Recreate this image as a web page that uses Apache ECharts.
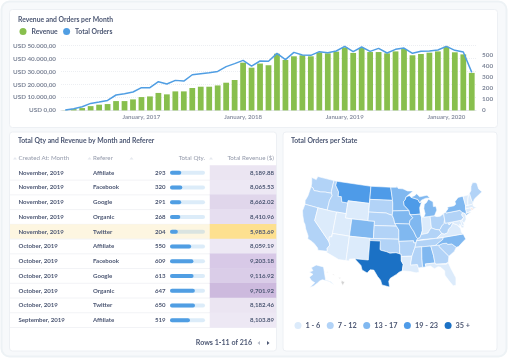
<!DOCTYPE html>
<html><head><meta charset="utf-8">
<style>html,body{margin:0;padding:0;background:#fff}#c{width:508px;height:360px;filter:blur(0.35px)}</style>
<script src="https://cdn.jsdelivr.net/npm/echarts@6/dist/echarts.min.js"></script>
</head><body><div id="c"></div>
<script>
// ---- Monthly chart data
const months = ['Apr 2016','May 2016','Jun 2016','Jul 2016','Aug 2016','Sep 2016','Oct 2016','Nov 2016','Dec 2016',
 'January, 2017','Feb 2017','Mar 2017','Apr 2017','May 2017','Jun 2017','Jul 2017','Aug 2017','Sep 2017','Oct 2017','Nov 2017','Dec 2017',
 'January, 2018','Feb 2018','Mar 2018','Apr 2018','May 2018','Jun 2018','Jul 2018','Aug 2018','Sep 2018','Oct 2018','Nov 2018','Dec 2018',
 'January, 2019','Feb 2019','Mar 2019','Apr 2019','May 2019','Jun 2019','Jul 2019','Aug 2019','Sep 2019','Oct 2019','Nov 2019','Dec 2019',
 'January, 2020','Feb 2020','Mar 2020','Apr 2020'];
const revenue = [100,1000,1800,3300,4400,4900,7200,7200,8500,10300,10800,13500,12400,14700,14700,17300,18300,18300,19300,21400,23500,
 36900,33000,36200,34900,43800,39000,41800,42600,41800,44900,44100,45400,48700,44400,48200,45100,45100,44100,45600,47400,42600,43600,44600,45600,49200,44900,43300,29000];
const orders = [3,15,33,63,75,90,139,151,166,205,205,259,238,271,265,322,331,340,352,395,422,
 452,400,446,443,515,458,524,500,497,530,521,536,578,530,572,533,560,518,551,563,515,533,536,545,578,542,527,343];
// ---- Table data
const rowMonth = ['November, 2019','November, 2019','November, 2019','November, 2019','November, 2019','October, 2019','October, 2019','October, 2019','October, 2019','October, 2019','September, 2019'];
const rowReferer = ['Affiliate','Facebook','Google','Organic','Twitter','Affiliate','Facebook','Google','Organic','Twitter','Affiliate'];
const rowQty = [293,320,291,268,204,550,609,613,647,650,519];
const rowRevenue = [8189.88,8065.53,8662.02,8410.96,5983.69,8059.19,9203.18,9116.92,9701.92,8182.46,8103.89];
const highlightedRow = 4;
// ---- State map data
const stateOrders = {WA:9,OR:10,CA:11,NV:4,ID:8,MT:20,WY:3,UT:4,CO:15,AZ:5,NM:4,ND:21,SD:9,NE:10,KS:9,OK:10,TX:38,MN:14,IA:15,MO:16,AR:10,LA:5,WI:22,IL:15,IN:4,MI:16,OH:11,KY:10,TN:9,MS:9,AL:14,GA:11,FL:5,SC:10,NC:15,VA:5,WV:8,MD:5,DE:2,PA:10,NY:16,NJ:4,CT:3,MA:5,VT:2,NH:5,ME:9,AK:8,RI:0};
const legendRanges = [[1,6,'1 - 6'],[7,12,'7 - 12'],[13,18,'13 - 17'],[19,24,'19 - 23'],[35,999,'35 +']];
const legendColors = ['#dcebfb','#b2d3f7','#80b8f0','#4e9be8','#1b71c5'];
const revenueBreaks = [0,7000,8150,8300,8500,8800,9150,9400,20000];
const revenueColors = ['#fde08f','#ede8f4','#ebe5f2','#e6def0','#e0d6eb','#dacde8','#d8c9e7','#cdbade'];
const stateShapes = {
WA:[[[-124.7,48.4],[-123,48.2],[-122.8,49],[-117.03,49],[-117.04,46.4],[-116.9,46],[-119,45.93],[-120.5,45.7],[-121.5,45.7],[-122.7,45.6],[-123.3,46.15],[-124,46.27],[-124.1,47]]],
OR:[[[-124,46.27],[-123.3,46.15],[-122.7,45.6],[-121.5,45.7],[-120.5,45.7],[-119,45.93],[-116.9,46],[-116.5,45.5],[-117,44.3],[-117.03,42],[-120,42],[-124.2,42],[-124.5,42.8],[-124.1,44]]],
CA:[[[-124.2,42],[-120,42],[-120,39],[-114.6,35],[-114.15,34.26],[-114.7,33.4],[-114.5,32.75],[-117.1,32.53],[-117.3,33],[-118.4,33.75],[-119.2,34.15],[-120.6,34.55],[-120.7,35.2],[-121.9,36.6],[-122.5,37.6],[-123,38],[-123.8,39.3],[-124.35,40.4]]],
NV:[[[-120,42],[-117.03,42],[-114.04,42],[-114.04,36.2],[-114.75,36.1],[-114.6,35],[-120,39]]],
ID:[[[-117.03,49],[-116.05,49],[-116.05,48],[-114.7,46.7],[-114.5,45.6],[-113.5,45.7],[-113,44.5],[-111.05,44.5],[-111.05,42],[-114.04,42],[-117.03,42],[-117,44.3],[-116.5,45.5],[-116.9,46],[-117.04,46.4]]],
MT:[[[-116.05,49],[-104.05,49],[-104.05,45.94],[-104.05,45],[-111.05,45],[-111.05,44.5],[-113,44.5],[-113.5,45.7],[-114.5,45.6],[-114.7,46.7],[-116.05,48]]],
WY:[[[-111.05,45],[-104.05,45],[-104.05,43],[-104.05,41],[-109.05,41],[-111.05,41],[-111.05,42],[-111.05,44.5]]],
UT:[[[-114.04,42],[-111.05,42],[-111.05,41],[-109.05,41],[-109.05,37],[-114.04,37],[-114.04,36.2]]],
CO:[[[-109.05,41],[-104.05,41],[-102.05,41],[-102.05,40],[-102.05,37],[-103,37],[-109.05,37]]],
AZ:[[[-114.04,37],[-109.05,37],[-109.05,31.33],[-111.07,31.33],[-114.8,32.5],[-114.5,32.75],[-114.7,33.4],[-114.15,34.26],[-114.6,35],[-114.75,36.1],[-114.04,36.2]]],
NM:[[[-109.05,37],[-103,37],[-103.03,36.5],[-103.05,32],[-106.6,32],[-106.5,31.78],[-108.2,31.78],[-108.2,31.33],[-109.05,31.33]]],
ND:[[[-104.05,49],[-97.2,49],[-96.6,46.3],[-96.56,45.94],[-104.05,45.94]]],
SD:[[[-104.05,45.94],[-96.56,45.94],[-96.45,45.3],[-96.45,43.5],[-96.6,42.5],[-97.9,42.8],[-98.5,43],[-104.05,43]]],
NE:[[[-104.05,43],[-98.5,43],[-97.9,42.8],[-96.6,42.5],[-96.1,41.6],[-95.8,40.6],[-95.3,40],[-102.05,40],[-102.05,41],[-104.05,41]]],
KS:[[[-102.05,40],[-95.3,40],[-94.6,39.1],[-94.62,37],[-102.05,37]]],
OK:[[[-103,37],[-102.05,37],[-94.62,37],[-94.62,36.5],[-94.43,35.4],[-94.48,33.64],[-95.5,33.9],[-97.2,33.8],[-98.1,34.1],[-99.7,34.4],[-100,34.56],[-100,36.5],[-103.03,36.5]]],
TX:[[[-106.6,32],[-103.05,32],[-103.03,36.5],[-100,36.5],[-100,34.56],[-99.7,34.4],[-98.1,34.1],[-97.2,33.8],[-95.5,33.9],[-94.48,33.64],[-94.04,33.55],[-94.04,33.02],[-94.04,32],[-93.55,31.2],[-93.84,29.7],[-94.7,29.4],[-95.4,28.9],[-97,28],[-97.4,27.3],[-97.15,25.95],[-99.1,26.4],[-99.5,27.5],[-100.3,28.3],[-101.4,29.77],[-102.4,29.77],[-103.1,29],[-104.5,29.6],[-104.9,30.6],[-106.5,31.78]]],
MN:[[[-97.2,49],[-95.15,49],[-95.15,49.38],[-94.6,48.7],[-93,48.6],[-91.4,48.05],[-89.5,48],[-92,46.7],[-92.3,46.1],[-92.9,45.6],[-92.75,44.75],[-91.25,43.5],[-96.45,43.5],[-96.45,45.3],[-96.56,45.94],[-96.6,46.3]]],
IA:[[[-96.45,43.5],[-91.25,43.5],[-91.1,42.7],[-90.2,41.8],[-91.1,41.2],[-91.4,40.4],[-95.8,40.6],[-96.1,41.6],[-96.6,42.5]]],
MO:[[[-95.8,40.6],[-91.4,40.4],[-90.7,39.3],[-90.2,38.7],[-89.5,37.3],[-89.15,36.98],[-89.5,36.5],[-89.7,36],[-90.35,36],[-90.4,36.5],[-94.62,36.5],[-94.62,37],[-94.6,39.1],[-95.3,40]]],
AR:[[[-94.62,36.5],[-90.4,36.5],[-90.35,36],[-89.7,36],[-90.1,35],[-91.1,33],[-94.04,33.02],[-94.04,33.55],[-94.48,33.64],[-94.43,35.4]]],
LA:[[[-94.04,33.02],[-91.1,33],[-91.6,31],[-89.75,31],[-89.5,30.2],[-89.4,29.2],[-90.2,29.1],[-91.8,29.5],[-93.84,29.7],[-93.55,31.2],[-94.04,32]]],
WI:[[[-92,46.7],[-90.9,46.95],[-90.4,46.55],[-88.2,45.95],[-87.6,45.1],[-87,45.3],[-87.8,44],[-87.8,42.5],[-90.65,42.5],[-91.1,42.7],[-91.25,43.5],[-92.75,44.75],[-92.9,45.6],[-92.3,46.1]]],
IL:[[[-90.65,42.5],[-87.8,42.5],[-87.5,41.7],[-87.53,39.3],[-87.6,38.7],[-88.05,37.8],[-88.5,37.1],[-89.15,36.98],[-89.5,37.3],[-90.2,38.7],[-90.7,39.3],[-91.4,40.4],[-91.1,41.2],[-90.2,41.8],[-91.1,42.7]]],
IN:[[[-87.5,41.7],[-86.8,41.76],[-84.8,41.76],[-84.82,39.1],[-85.4,38.7],[-86,38],[-87,37.9],[-88.05,37.8],[-87.6,38.7],[-87.53,39.3]]],
MI:[[[[-86.8,41.76],[-84.8,41.76],[-83.45,41.73],[-83.1,42.2],[-82.45,43],[-82.6,43.9],[-83.4,43.9],[-83.3,45],[-84.7,45.75],[-85.5,45],[-86.2,44.7],[-86.5,43.7],[-86.25,42.5]]],[[[-90.4,46.55],[-89,46.9],[-88.4,47.3],[-87.5,46.5],[-85,46.7],[-84.1,46],[-85.5,46.05],[-87,45.7],[-87.6,45.1],[-88.2,45.95]]]],
OH:[[[-84.8,41.76],[-83.45,41.73],[-82.7,41.5],[-81.7,41.5],[-80.52,41.98],[-80.52,40.64],[-80.85,39.7],[-81.7,39.2],[-82.2,38.6],[-82.6,38.42],[-83.7,38.65],[-84.82,39.1]]],
KY:[[[-89.15,36.98],[-88.5,37.1],[-88.05,37.8],[-87,37.9],[-86,38],[-85.4,38.7],[-84.82,39.1],[-83.7,38.65],[-82.6,38.42],[-82,37.55],[-83.68,36.6],[-88.07,36.65],[-88.07,36.5],[-89.5,36.5]]],
TN:[[[-90.1,35],[-89.7,36],[-89.5,36.5],[-88.07,36.5],[-88.07,36.65],[-83.68,36.6],[-81.68,36.59],[-82,36.1],[-84.3,35],[-85.6,34.98],[-88.2,35]]],
MS:[[[-90.1,35],[-88.2,35],[-88.4,32.3],[-88.4,30.3],[-89.5,30.2],[-89.75,31],[-91.6,31],[-91.1,33]]],
AL:[[[-88.2,35],[-85.6,34.98],[-85.15,32.8],[-85,31],[-87.6,31],[-87.5,30.3],[-88.4,30.3],[-88.4,32.3]]],
GA:[[[-85.6,34.98],[-84.3,35],[-83.1,35],[-83.35,34.7],[-81,32.1],[-81.45,30.7],[-82.2,30.57],[-82.05,30.36],[-84.86,30.7],[-85,31],[-85.15,32.8]]],
FL:[[[-87.6,31],[-85,31],[-84.86,30.7],[-82.05,30.36],[-82.2,30.57],[-81.45,30.7],[-81,29.3],[-80.1,26.9],[-80.4,25.2],[-81.1,25.15],[-81.8,26.2],[-82.8,27.9],[-82.7,28.9],[-83.7,29.9],[-84.3,30.05],[-85.3,29.7],[-86.3,30.4],[-87.5,30.3]]],
SC:[[[-83.1,35],[-82.3,35.2],[-81,35.15],[-80.8,34.82],[-79.67,34.8],[-78.55,33.86],[-79.3,33],[-81,32.1],[-83.35,34.7]]],
NC:[[[-84.3,35],[-82,36.1],[-81.68,36.59],[-75.9,36.55],[-75.5,35.3],[-76.6,34.7],[-77.9,33.9],[-78.55,33.86],[-79.67,34.8],[-80.8,34.82],[-81,35.15],[-82.3,35.2],[-83.1,35]]],
VA:[[[-83.68,36.6],[-82,37.55],[-81.3,37.3],[-80.3,37.5],[-79.9,38.2],[-78.9,38.8],[-78.35,39.4],[-77.8,39.2],[-77.05,38.85],[-76.3,37.9],[-76.3,37],[-75.9,36.55],[-81.68,36.59]]],
WV:[[[-82.6,38.42],[-82.2,38.6],[-81.7,39.2],[-80.85,39.7],[-80.52,40.64],[-80.52,39.72],[-79.48,39.72],[-79.48,39.2],[-78.35,39.7],[-77.75,39.3],[-77.8,39.2],[-78.35,39.4],[-78.9,38.8],[-79.9,38.2],[-80.3,37.5],[-81.3,37.3],[-82,37.55]]],
MD:[[[-79.48,39.72],[-75.79,39.72],[-75.7,38.46],[-75.05,38.45],[-75.4,38],[-75.9,37.95],[-76.3,38.9],[-76.4,38.3],[-77.05,38.85],[-77.8,39.2],[-77.75,39.3],[-78.35,39.7],[-79.48,39.2]]],
DE:[[[-75.79,39.72],[-75.4,39.8],[-75.1,38.8],[-75.05,38.45],[-75.7,38.46]]],
PA:[[[-80.52,41.98],[-79.76,42.27],[-79.76,42],[-75.35,42],[-74.7,41.35],[-75.1,40.9],[-74.75,40.2],[-75.4,39.8],[-75.79,39.72],[-79.48,39.72],[-80.52,39.72],[-80.52,40.64]]],
NY:[[[-79.76,42.27],[-78.9,42.9],[-79.05,43.27],[-76.8,43.3],[-76.2,43.6],[-76.3,44.2],[-75,45],[-73.35,45],[-73.3,43.6],[-73.27,42.75],[-73.5,42.05],[-73.5,41.3],[-73.65,41],[-72,41.05],[-73.9,40.55],[-74,41],[-74.7,41.35],[-75.35,42],[-79.76,42]]],
NJ:[[[-74.7,41.35],[-74,41],[-74,40.4],[-74.1,39.7],[-74.9,38.95],[-75.5,39.5],[-74.75,40.2],[-75.1,40.9]]],
CT:[[[-73.5,42.05],[-71.8,42.02],[-71.85,41.32],[-73.65,41],[-73.5,41.3]]],
RI:[[[-71.8,42.02],[-71.38,42.02],[-71.2,41.5],[-71.85,41.32]]],
MA:[[[-73.5,42.05],[-73.27,42.75],[-72.45,42.73],[-71.3,42.7],[-70.8,42.85],[-71,42.3],[-70.6,41.95],[-70,41.8],[-70,41.6],[-71.2,41.5],[-71.38,42.02],[-71.8,42.02]]],
VT:[[[-73.35,45],[-71.5,45],[-72.05,44.1],[-72.45,43],[-72.45,42.73],[-73.27,42.75],[-73.3,43.6]]],
NH:[[[-71.5,45],[-71.08,45.3],[-70.98,43.4],[-70.7,43.07],[-70.8,42.85],[-71.3,42.7],[-72.45,42.73],[-72.45,43],[-72.05,44.1]]],
ME:[[[-71.08,45.3],[-70.4,45.8],[-70,46.7],[-69.2,47.45],[-68.3,47.35],[-67.8,47.07],[-67.8,45.7],[-67,44.85],[-68.5,44.3],[-70,43.75],[-70.7,43.07],[-70.98,43.4]]],
AK:[[[-141,69.65],[-156.6,71.3],[-166,68.9],[-162,67],[-168,65.6],[-161,64.5],[-166,62],[-162,60],[-157,58.8],[-163,55],[-158,56.5],[-153,58.7],[-150,60],[-146,60.8],[-141,60],[-136,58.5],[-131,55.5],[-134,58.2],[-139,60],[-141,60.3]]],
HI:[[[[-155.9,20.2],[-155.1,19.8],[-155.6,19],[-156,19.7]]],[[[-156.7,20.9],[-156,20.8],[-156.4,20.6]]],[[[-158.2,21.5],[-157.7,21.4],[-158,21.7]]],[[[-159.8,22.1],[-159.3,22],[-159.5,22.2]]]]
};
const features = Object.keys(stateShapes).map(name => {
  const c = stateShapes[name], multi = name === 'MI' || name === 'HI';
  return {type:'Feature',properties:{name},geometry:{type:multi?'MultiPolygon':'Polygon',coordinates:c}};
});
echarts.registerMap('usa',{type:'FeatureCollection',features});
const rad = Math.PI/180;
function albers(lon,lat,lon0,lat0,p1,p2){
  const n=(Math.sin(p1*rad)+Math.sin(p2*rad))/2, C=Math.cos(p1*rad)**2+2*n*Math.sin(p1*rad);
  const rho=Math.sqrt(C-2*n*Math.sin(lat*rad))/n, rho0=Math.sqrt(C-2*n*Math.sin(lat0*rad))/n, th=n*(lon-lon0)*rad;
  return [rho*Math.sin(th), -(rho0-rho*Math.cos(th))];
}
const projection = {
  project(p){
    if(p[1]>=52){const a=albers(p[0],p[1],-152,64,55,65);return [a[0]*0.33-0.32,a[1]*0.33+0.155];}
    if(p[0]<-150){const a=albers(p[0],p[1],-157,20.5,8,18);return [a[0]*1-0.24,a[1]*1+0.17];}
    const a=albers(p[0],p[1],-96,37.5,29.5,45.5);
    return [a[0]*1.05,a[1]];
  },
  unproject(p){return p;}
};
const INK='#4c5773', MUTED='#949aab', FONT='Lato';
const chart = echarts.init(document.getElementById('c'));
const text=(x,y,s,o={})=>({type:'text',x,y,z:5,style:Object.assign({text:s,fontFamily:FONT,fontSize:6.8,fontWeight:700,fill:INK,textAlign:'left',textVerticalAlign:'middle'},o)});
const card=(x,y,w,h)=>({type:'rect',z:-5,shape:{x,y,width:w,height:h,r:3},style:{fill:'#fff',stroke:'#edf0f4',lineWidth:1}});
const rowIdx = rowMonth.map((_,i)=>i);
const yCat = g => ({type:'category',gridIndex:g,data:rowIdx,inverse:true,show:false});
const sorter=(x)=>({type:'polygon',z:5,shape:{points:[[x-2,159.5],[x+2,159.5],[x,157]]},style:{fill:'#e6e9ef'}});
const head={fill:MUTED,fontSize:6.2,fontWeight:400};
chart.setOption({
  animation:false,
  textStyle:{fontFamily:FONT},
  graphic:[
    {type:'rect',z:-6,shape:{x:1.5,y:1.5,width:505,height:355,r:8},style:{fill:'#f7f9fb',stroke:'#edf2f5',lineWidth:2}},
    card(9.5,9.5,488,118),card(9.5,132,267,219),card(283,132,214,219),
    text(18,20,'Revenue and Orders per Month'),
    text(18,141,'Total Qty and Revenue by Month and Referer'),
    text(291,141,'Total Orders per State'),
    text(18.5,158,'Created At: Month',head),
    text(93,158,'Referer',head),
    text(205,158,'Total Qty.',Object.assign({textAlign:'right'},head)),
    text(274,158,'Total Revenue ($)',Object.assign({textAlign:'right'},head)),
    sorter(15),sorter(89.5),sorter(131.5),sorter(211),
    text(252,343,'Rows 1-11 of 216',{textAlign:'right',fontSize:7.1}),
    {type:'polygon',z:5,shape:{points:[[260,341],[260,345],[257.5,343]]},style:{fill:'#b6bbc7'}},
    {type:'polygon',z:5,shape:{points:[[267,341],[267,345],[269.5,343]]},style:{fill:INK}}
  ],
  legend:{data:['Revenue','Total Orders'],left:19.5,top:28,icon:'circle',itemWidth:7,itemHeight:7,itemGap:5.5,padding:0,
    textStyle:{fontFamily:FONT,fontSize:6.8,fontWeight:700,color:INK},selectedMode:false},
  grid:[
    {left:61,top:45.7,width:415,height:64.7},
    {left:10,top:165.4,width:266,height:162.1},
    {left:170,top:165.4,width:35,height:162.1},
    {left:210,top:165.4,width:66,height:162.1}
  ],
  xAxis:[
    {type:'category',gridIndex:0,data:months,
      axisLine:{lineStyle:{color:'#e6e8ec'}},axisTick:{show:false},
      axisLabel:{interval:(i,v)=>v.startsWith('January'),fontSize:6.1,fontWeight:700,color:'#8d93a5',margin:4,hideOverlap:false}},
    {type:'value',gridIndex:1,min:10,max:276,show:false},
    {type:'value',gridIndex:2,min:0,max:910,show:false},
    {type:'category',gridIndex:3,data:['Total Revenue ($)'],show:false}
  ],
  yAxis:[
    {type:'value',gridIndex:0,min:0,max:50000,interval:10000,axisLine:{show:false},axisTick:{show:false},
      splitLine:{lineStyle:{type:'dotted',color:'#eceef2'}},
      axisLabel:{margin:5,fontSize:6.3,fontWeight:700,color:'#7f8799',formatter:v=>'USD '+v.toLocaleString('de-DE')+',00'}},
    {type:'value',gridIndex:0,position:'right',min:0,max:584,interval:100,axisLine:{show:false},axisTick:{show:false},splitLine:{show:false},
      axisLabel:{margin:6,fontSize:6.4,fontWeight:700,color:'#7f8799',showMaxLabel:false}},
    yCat(1),yCat(2),yCat(3)
  ],
  visualMap:[
    {type:'piecewise',seriesIndex:6,orient:'horizontal',left:294.5,top:322,itemWidth:7,itemHeight:7,itemSymbol:'circle',itemGap:6.5,textGap:4,padding:0,selectedMode:false,
      pieces:legendRanges.map((r,i)=>({min:r[0],max:r[1],label:r[2],color:legendColors[i]})),
      outOfRange:{color:'#f5dcd6'},
      textStyle:{fontFamily:FONT,fontSize:7.3,fontWeight:700,color:INK}},
    {type:'piecewise',seriesIndex:4,show:false,dimension:2,
      pieces:revenueColors.map((c,i)=>({gte:revenueBreaks[i],lt:revenueBreaks[i+1],color:c}))}
  ],
  series:[
    {name:'Revenue',type:'bar',xAxisIndex:0,yAxisIndex:0,data:revenue,barWidth:'68%',itemStyle:{color:'#88bf4d'}},
    {name:'Total Orders',type:'line',xAxisIndex:0,yAxisIndex:1,data:orders,symbol:'none',z:4,lineStyle:{color:'#509ee3',width:1.5},itemStyle:{color:'#509ee3'}},
    {type:'custom',xAxisIndex:1,yAxisIndex:2,z:1,silent:true,data:rowIdx,encode:{y:0},
      renderItem(p,api){
        const i=api.value(0), s=api.size([0,1])[1], a=api.coord([10,i]), b=api.coord([276,i]);
        const kids=[{type:'line',shape:{x1:a[0],y1:a[1]+s/2,x2:b[0],y2:b[1]+s/2},style:{stroke:'#f2f3f6',lineWidth:1}}];
        if(i===highlightedRow) kids.unshift({type:'rect',shape:{x:a[0],y:a[1]-s/2,width:b[0]-a[0],height:s},style:{fill:'#fdf6e1'}});
        return {type:'group',children:kids};
      }},
    {type:'bar',xAxisIndex:2,yAxisIndex:3,data:rowQty,barWidth:4,z:3,silent:true,
      showBackground:true,backgroundStyle:{color:'rgba(80,158,227,0.2)',borderRadius:2},
      itemStyle:{color:'#509ee3',borderRadius:2}},
    {type:'heatmap',xAxisIndex:3,yAxisIndex:4,z:2,silent:true,data:rowRevenue.map((v,i)=>[0,i,v]),itemStyle:{borderWidth:0}},
    {type:'custom',xAxisIndex:1,yAxisIndex:2,z:6,silent:true,data:rowIdx,encode:{y:0},
      renderItem(p,api){
        const i=api.value(0), y=api.coord([0,i])[1];
        const t=(x,s,align)=>({type:'text',x:api.coord([x,i])[0],y,style:{text:s,fontFamily:FONT,fontSize:6.1,fontWeight:700,fill:INK,textAlign:align||'left',textVerticalAlign:'middle'}});
        return {type:'group',children:[
          t(18.5,rowMonth[i]),t(93,rowReferer[i]),t(165.5,String(rowQty[i]),'right'),
          t(274,rowRevenue[i].toLocaleString('en-US',{minimumFractionDigits:2}),'right')]};
      }},
    {type:'map',map:'usa',projection,left:302.5,top:176.5,width:179.5,height:111,silent:true,showLegendSymbol:false,
      selectedMode:false,label:{show:false},
      itemStyle:{areaColor:'#d2d2d2',borderColor:'#fff',borderWidth:0.6},
      emphasis:{disabled:true},
      data:Object.keys(stateOrders).map(name=>({name,value:stateOrders[name]}))}
  ]
});
</script></body></html>
